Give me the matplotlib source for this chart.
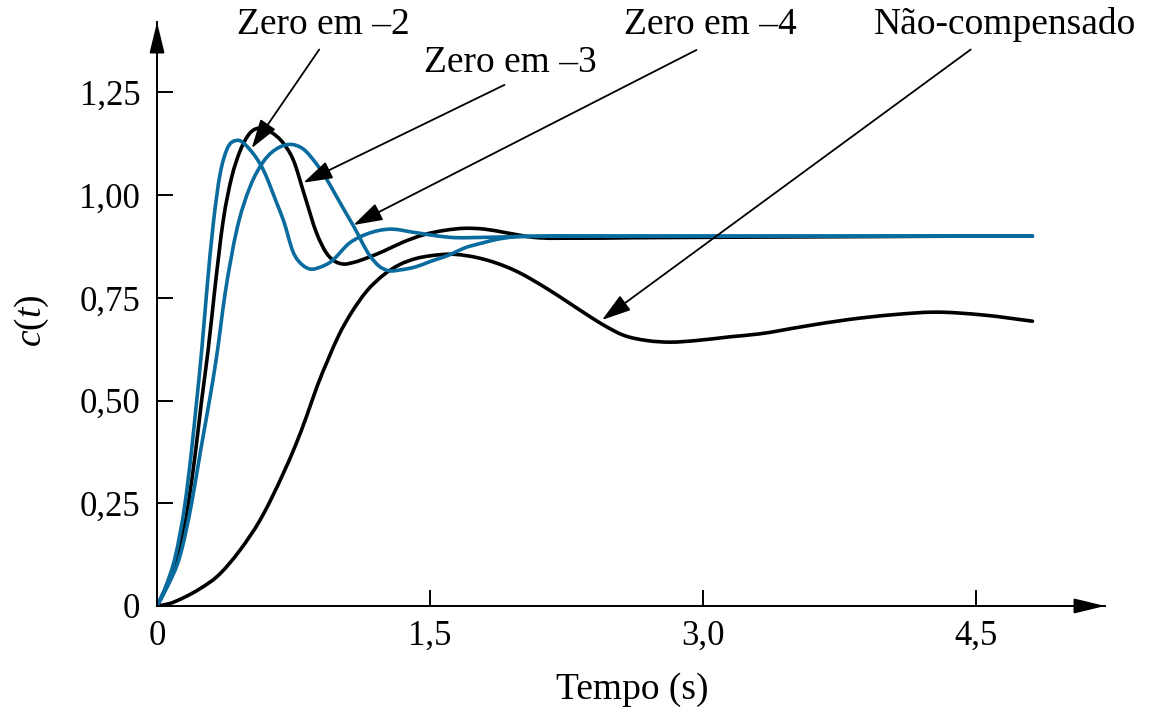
import matplotlib
matplotlib.use('Agg')
import matplotlib.pyplot as plt
from matplotlib.path import Path
from matplotlib.patches import PathPatch

plt.rcParams['font.family'] = ['Liberation Serif', 'DejaVu Serif']
plt.rcParams['mathtext.fontset'] = 'custom'
plt.rcParams['mathtext.rm'] = 'Liberation Serif'
plt.rcParams['mathtext.it'] = 'Liberation Serif:italic'

# curves (time in s, c(t))
t_z2 = [0, 0.05, 0.1, 0.154, 0.19, 0.218, 0.245, 0.273, 0.309, 0.346, 0.383, 0.438,
        0.511, 0.584, 0.658, 0.694, 0.749, 0.804, 0.84, 0.90, 0.95, 1.06, 1.152, 1.28,
        1.40, 1.50, 1.61, 1.80, 2.0, 2.5, 3.0, 3.5, 4.0, 4.5, 4.81]
c_z2 = [0, 0.05, 0.12, 0.25, 0.38, 0.5, 0.62, 0.765, 0.93, 1.05, 1.11, 1.133,
        1.11, 1.061, 0.98, 0.939, 0.86, 0.828, 0.82, 0.825, 0.836, 0.884, 0.905, 0.917,
        0.91, 0.903, 0.897, 0.897, 0.899, 0.9, 0.9, 0.9, 0.9, 0.9, 0.9]

t_z3 = [0, 0.055, 0.115, 0.172, 0.21, 0.245, 0.28, 0.319, 0.364, 0.41, 0.456, 0.511,
        0.566, 0.63, 0.694, 0.749, 0.81, 0.877, 0.932, 0.98, 1.024, 1.08, 1.16, 1.243,
        1.35, 1.463, 1.58, 1.69, 1.80, 1.92, 2.07, 2.3, 2.6, 3.0, 3.5, 4.0, 4.5, 4.81]
c_z3 = [0, 0.05, 0.12, 0.25, 0.37, 0.5, 0.62, 0.777, 0.939, 1.043, 1.107, 1.151,
        1.163, 1.152, 1.126, 1.085, 1.0, 0.907, 0.858, 0.838, 0.832, 0.836, 0.848, 0.863,
        0.885, 0.903, 0.914, 0.919, 0.917, 0.908, 0.897, 0.895, 0.896, 0.897, 0.898, 0.899, 0.9, 0.9]

t_z4 = [0, 0.06, 0.125, 0.19, 0.24, 0.288, 0.325, 0.374, 0.438, 0.511, 0.584, 0.676,
        0.74, 0.8, 0.877, 0.93, 0.969, 1.02, 1.079, 1.17, 1.22, 1.271, 1.34, 1.427,
        1.5, 1.61, 1.683, 1.793, 1.866, 1.958, 2.1, 2.5, 3.0, 3.5, 4.0, 4.5, 4.81]
c_z4 = [0, 0.05, 0.12, 0.25, 0.38, 0.5, 0.6, 0.76, 0.915, 1.02, 1.081, 1.117,
        1.123, 1.113, 1.075, 1.04, 1.01, 0.97, 0.925, 0.852, 0.827, 0.816, 0.818, 0.826,
        0.838, 0.855, 0.87, 0.884, 0.892, 0.898, 0.9, 0.9, 0.9, 0.9, 0.9, 0.9, 0.9]

t_unc = [0, 0.07, 0.145, 0.236, 0.328, 0.456, 0.566, 0.694, 0.76, 0.822, 0.88, 0.94,
         1.0, 1.07, 1.15, 1.243, 1.33, 1.427, 1.5, 1.61, 1.775, 1.958, 2.14, 2.269,
         2.379, 2.452, 2.562, 2.69, 2.82, 2.965, 3.148, 3.308, 3.55, 3.8, 4.05, 4.27,
         4.54, 4.81]
c_unc = [0, 0.006, 0.02, 0.042, 0.071, 0.136, 0.209, 0.323, 0.39, 0.462, 0.535, 0.60,
         0.66, 0.715, 0.765, 0.805, 0.83, 0.846, 0.852, 0.856, 0.846, 0.818, 0.773, 0.736,
         0.704, 0.684, 0.659, 0.646, 0.642, 0.646, 0.655, 0.662, 0.68, 0.697, 0.709, 0.715,
         0.708, 0.693]

x_ticks = [0, 1.5, 3.0, 4.5]
x_labels = ['0', '1,5', '3,0', '4,5']
y_ticks = [0, 0.25, 0.5, 0.75, 1.0, 1.25]
y_labels = ['0', '0,25', '0,50', '0,75', '1,00', '1,25']

# annotation labels: text, text position, arrow tail, arrow tip
notes = ['Zero em \u20132', 'Zero em \u20133', 'Zero em \u20134', 'N\u00e3o-compensado']
note_pos = [(0.912, 1.392), (1.94, 1.299), (3.041, 1.392), (4.659, 1.392)]
note_tail = [(0.891, 1.354), (1.909, 1.268), (2.964, 1.353), (4.471, 1.354)]
note_tip = [(0.520, 1.114), (0.804, 1.030), (1.079, 0.927), (2.445, 0.696)]

blue = '#0a6b9e'


def smooth_line(ax, t, c, color):
    """draw the read points as one smooth cubic curve through them"""
    n = len(t)
    h = [t[i + 1] - t[i] for i in range(n - 1)]
    d = [(c[i + 1] - c[i]) / h[i] for i in range(n - 1)]
    m = [d[0]] + [(d[i - 1] * h[i] + d[i] * h[i - 1]) / (h[i - 1] + h[i])
                  for i in range(1, n - 1)] + [d[-1]]
    verts = [(t[0], c[0])]
    codes = [Path.MOVETO]
    for i in range(n - 1):
        verts += [(t[i] + h[i] / 3, c[i] + m[i] * h[i] / 3),
                  (t[i + 1] - h[i] / 3, c[i + 1] - m[i + 1] * h[i] / 3),
                  (t[i + 1], c[i + 1])]
        codes += [Path.CURVE4] * 3
    ax.add_patch(PathPatch(Path(verts, codes), fill=False, edgecolor=color,
                           lw=2.6, capstyle='round', joinstyle='round'))


fig = plt.figure(figsize=(11.53, 7.12), dpi=100)
ax = fig.add_axes([0.1362, 0.1489, 0.8222, 0.8202])

smooth_line(ax, t_unc, c_unc, 'k')
smooth_line(ax, t_z3, c_z3, 'k')
smooth_line(ax, t_z4, c_z4, blue)
smooth_line(ax, t_z2, c_z2, blue)

ax.set_xlim(0, 5.209)
ax.set_ylim(0, 1.421)
for s in ['top', 'right']:
    ax.spines[s].set_visible(False)
for s in ['left', 'bottom']:
    ax.spines[s].set_linewidth(1.4)

ax.set_xticks(x_ticks)
ax.set_xticklabels(x_labels)
ax.set_yticks(y_ticks)
ax.set_yticklabels(y_labels)
ax.tick_params(axis='both', direction='in', length=11.5, width=1.4, labelsize=25)
ax.tick_params(axis='x', pad=10)
ax.tick_params(axis='y', pad=12)

# axis arrowheads
head = dict(arrowstyle='-|>,head_length=0.95,head_width=0.23', color='k', lw=1.4,
            shrinkA=0, shrinkB=0, mutation_scale=20)
ax.annotate('', xy=(1, 0), xytext=(0.95, 0), xycoords='axes fraction',
            textcoords='axes fraction', arrowprops=head, annotation_clip=False)
ax.annotate('', xy=(0, 1), xytext=(0, 0.95), xycoords='axes fraction',
            textcoords='axes fraction', arrowprops=head, annotation_clip=False)

# label arrows
for txt, pos, tail, tip in zip(notes, note_pos, note_tail, note_tip):
    ax.text(pos[0], pos[1], txt, fontsize=27, ha='center', va='baseline')
    ax.annotate('', xy=tip, xytext=tail,
                arrowprops=dict(arrowstyle='-|>,head_length=0.9,head_width=0.28',
                                color='k', lw=1.3, shrinkA=0, shrinkB=0,
                                mutation_scale=20))

fig.text(32 / 1153, 1 - 321 / 712, '$c(t)$', fontsize=27, rotation=90,
         ha='center', va='center')
fig.text(632 / 1153, 1 - 690 / 712, 'Tempo (s)', fontsize=27, ha='center', va='center')

fig.savefig('out.png', dpi=100)
